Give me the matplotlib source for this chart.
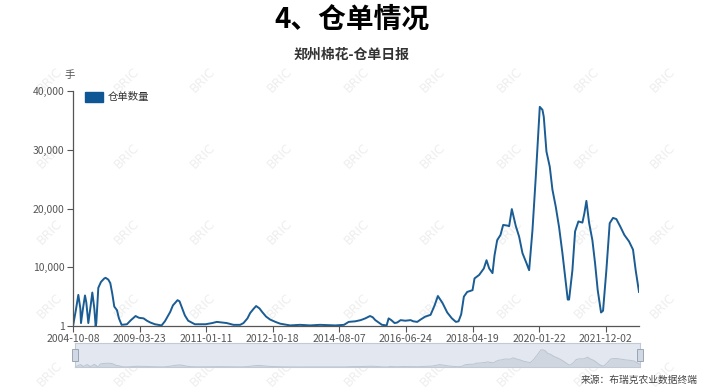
import matplotlib.pyplot as plt
from matplotlib.patches import Rectangle

plt.rcParams['font.family'] = ['Noto Sans CJK SC', 'DejaVu Sans']

# category index of each traced point (100 per tick interval) and warehouse receipts (thousand lots)
idx = [0, 4, 8, 11, 12, 15, 18, 20, 23, 26, 29, 32, 34, 35, 38, 42, 47, 49, 53, 56,
       59, 62, 66, 69, 73, 81, 87, 94, 99, 106, 111, 116, 123, 133, 138, 146, 150, 157, 160, 163,
       168, 173, 183, 199, 209, 216, 224, 231, 241, 251, 256, 262, 266, 271, 275, 280, 284, 290, 296, 304,
       311, 326, 341, 356, 371, 394, 407, 414, 424, 432, 439, 446, 450, 454, 459, 464, 471, 474, 478, 483,
       487, 492, 499, 507, 511, 517, 522, 529, 537, 543, 548, 555, 562, 569, 575, 579, 583, 587, 592, 600,
       603, 610, 617, 621, 625, 630, 633, 637, 642, 646, 652, 655, 659, 665, 670, 675, 681, 685, 690, 695,
       699, 701, 705, 707, 711, 716, 720, 725, 730, 735, 739, 743, 745, 750, 754, 759, 765, 768, 771, 775,
       780, 784, 788, 793, 796, 801, 806, 811, 816, 822, 828, 835, 841, 845, 850]
qty_k = [0, 2.5, 5.3, 3, 0.5, 3, 5.2, 4, 0.5, 3, 5.7, 3, 0, 0.5, 6.5, 7.5, 8.1, 8.2, 7.9, 7.3,
         5.5, 3.3, 2.7, 1.3, 0.2, 0.3, 1.0, 1.7, 1.4, 1.3, 0.9, 0.6, 0.3, 0.1, 0.8, 2.4, 3.5, 4.4, 4.2, 3.3,
         1.8, 0.9, 0.3, 0.3, 0.5, 0.7, 0.6, 0.5, 0.2, 0.2, 0.5, 1.3, 2.2, 2.9, 3.4, 3.0, 2.4, 1.6, 1.1, 0.7,
         0.4, 0.1, 0.2, 0.1, 0.2, 0.1, 0.2, 0.7, 0.8, 1.0, 1.3, 1.7, 1.5, 1.0, 0.6, 0.2, 0.1, 1.3, 1.0, 0.5,
         0.6, 1.0, 0.9, 1.0, 0.8, 0.7, 1.1, 1.6, 1.9, 3.5, 5.1, 3.9, 2.3, 1.3, 0.7, 0.8, 2.0, 5.0, 5.8, 6.1,
         8.1, 8.7, 9.8, 11.2, 9.8, 9.0, 12.0, 14.6, 15.5, 17.2, 17.1, 17.0, 19.9, 17.0, 15.2, 12.4, 10.7, 9.5, 16.3, 25.4,
         33.4, 37.3, 36.8, 35.6, 29.7, 27.1, 23.2, 20.3, 16.8, 12.4, 8.4, 4.5, 4.5, 9.5, 16.1, 17.8, 17.6, 19.2, 21.3, 17.6,
         14.6, 10.7, 6.1, 2.3, 2.6, 9.5, 17.5, 18.4, 18.2, 16.9, 15.5, 14.4, 13.0, 9.5, 5.8]
qty = [max(v * 1000, 1) for v in qty_k]

tick_pos = [0, 100, 200, 300, 400, 500, 600, 700, 800]
tick_labels = ['2004-10-08', '2009-03-23', '2011-01-11', '2012-10-18', '2014-08-07',
               '2016-06-24', '2018-04-19', '2020-01-22', '2021-12-02']
y_ticks = [1, 10000, 20000, 30000, 40000]
y_labels = ['1', '10,000', '20,000', '30,000', '40,000']

line_c = '#1a5c93'
axis_c = '#555555'

fig = plt.figure(figsize=(7.04, 3.92), dpi=100)

# BRIC watermark on a background layer
bg = fig.add_axes([0, 0, 1, 1], zorder=-5)
bg.set_xlim(0, 704)
bg.set_ylim(392, 0)
bg.axis('off')
for wy in [80, 156, 232, 306, 374]:
    for wx in [50, 127, 203, 280, 357, 433, 510, 587, 663]:
        bg.text(wx, wy, 'BRIC', rotation=45, ha='center', va='center',
                fontsize=9, color='#eeeeee', family='DejaVu Sans')

fig.text(0.5, 1 - 20 / 392, '4、仓单情况', ha='center', va='center', fontsize=20,
         fontweight='bold', color='black')
fig.text(0.5, 1 - 55 / 392, '郑州棉花-仓单日报', ha='center', va='center', fontsize=10,
         fontweight='bold', color='#333333')

ax = fig.add_axes([73 / 704, 1 - 326 / 392, 566 / 704, 235 / 392])
ax.patch.set_alpha(0)
ax.plot(idx, qty, color=line_c, lw=1.4)
ax.set_xlim(0, 850)
ax.set_ylim(1, 40000)
ax.set_xticks(tick_pos)
ax.set_xticklabels(tick_labels)
ax.set_yticks(y_ticks)
ax.set_yticklabels(y_labels)
for s in ['top', 'right']:
    ax.spines[s].set_visible(False)
for s in ['left', 'bottom']:
    ax.spines[s].set_color(axis_c)
    ax.spines[s].set_linewidth(0.9)
ax.tick_params(axis='both', colors=axis_c, labelsize=7.5, length=4, width=0.8, pad=2)
ax.text(-0.005, 1.07, '手', transform=ax.transAxes, ha='center', va='center',
        fontsize=7.5, color=axis_c)

# legend
fig.patches.append(Rectangle((85 / 704, 1 - 102 / 392), 18 / 704, 10 / 392,
                             transform=fig.transFigure, color='#0f5794'))
fig.text(108 / 704, 1 - 97 / 392, '仓单数量', ha='left', va='center', fontsize=7.5, color='#333333')

# data zoom slider
sl = fig.add_axes([75 / 704, 1 - 367 / 392, 565 / 704, 24 / 392])
sl.set_facecolor('#e3e8f0')
sl.fill_between(idx, qty, 0, color='#cfd6e0', lw=0)
sl.plot(idx, qty, color='#bcc4cf', lw=0.7)
sl.set_xlim(0, 850)
sl.set_ylim(0, 52000)
sl.set_xticks([])
sl.set_yticks([])
for s in sl.spines.values():
    s.set_color('#c2cad6')
    s.set_linewidth(0.8)
for hx in [0, 850]:
    sl.add_patch(Rectangle((hx - 5, 12000), 10, 26000, facecolor='#d0d8e4', edgecolor='#9aa6b6',
                           lw=0.7, clip_on=False, zorder=5))

fig.text(698 / 704, 1 - 380 / 392, '来源：布瑞克农业数据终端', ha='right', va='center',
         fontsize=7, color='#444444')

fig.savefig('out.png', dpi=100)
